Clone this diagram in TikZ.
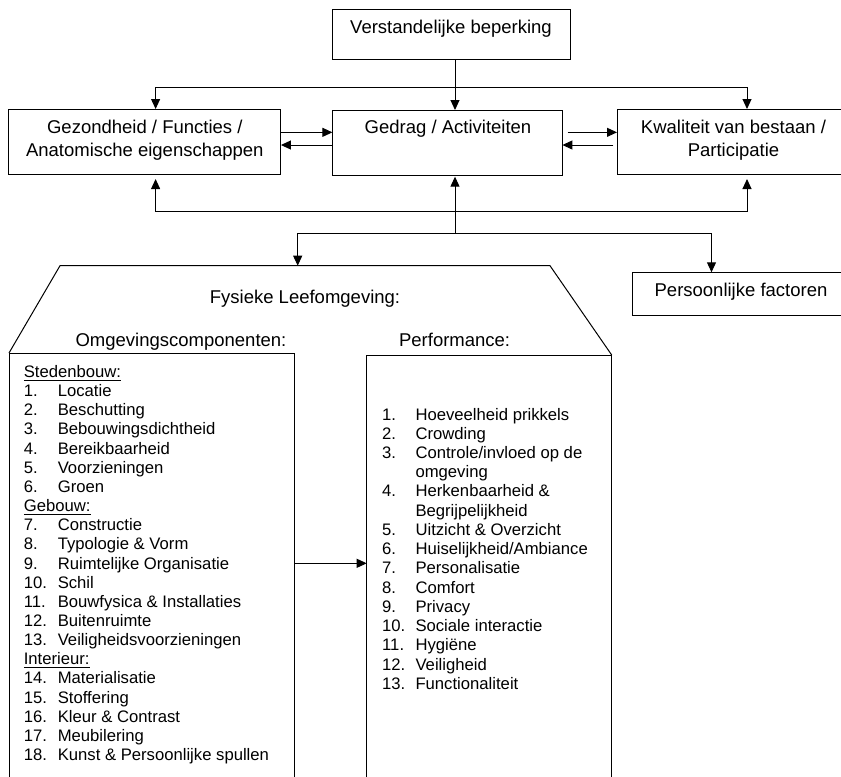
\documentclass[tikz,border=0pt]{standalone}
\usepackage{fontspec}
\setmainfont{Liberation Sans}
\usetikzlibrary{arrows.meta}
\newcommand{\headfont}{\fontsize{11.1}{13.8}\selectfont}
\newcommand{\listfont}{\fontsize{10}{11.5}\selectfont}
\tikzset{
  box/.style={draw, inner sep=0pt, outer sep=0pt, anchor=north west},
  arr/.style={-{Triangle[length=6pt,width=5.4pt]}},
  htxt/.style={font=\headfont, anchor=base, inner sep=0pt},
  ltxt/.style={font=\listfont, anchor=base west, inner sep=0pt}
}
\begin{document}
\begin{tikzpicture}[x=0.6pt,y=-0.6pt,line width=0.6pt]
  \useasboundingbox (0,0) rectangle (841,776);
  \clip (0,0) rectangle (841,776);
  % boxes
  \node[box, minimum width=142.8pt, minimum height=30.4pt] (vb) at (332,9.3) {};
  \node[box, minimum width=163.4pt, minimum height=39pt] (gez) at (8.6,109) {};
  \node[box, minimum width=138pt, minimum height=39pt] (ged) at (332.4,110) {};
  \node[box, minimum width=139.8pt, minimum height=39pt] (kwal) at (617,109) {};
  \node[box, minimum width=130.6pt, minimum height=26pt] (pers) at (632.3,272.3) {};
  \node[box, minimum width=171pt, minimum height=270pt] (omg) at (9,353) {};
  \node[box, minimum width=147pt, minimum height=270pt] (perf) at (366.7,355) {};
  % texts
  \node[htxt] (vbt) at (451,33.7) {Verstandelijke beperking};
  \node[htxt] (gezt1) at (144.8,133.7) {Gezondheid / Functies /};
  \node[htxt] (gezt2) at (144.8,156.7) {Anatomische eigenschappen};
  \node[htxt] (gedt) at (448,133.5) {Gedrag / Activiteiten};
  \node[htxt] (kwalt1) at (733.5,133.7) {Kwaliteit van bestaan /};
  \node[htxt] (kwalt2) at (733.5,156.7) {Participatie};
  \node[htxt] (perst) at (741,296.7) {Persoonlijke factoren};
  \node[htxt] (fys) at (305,303) {Fysieke Leefomgeving:};
  \node[htxt] (omgt) at (181,346.5) {Omgevingscomponenten:};
  \node[htxt] (perft) at (454.6,346.5) {Performance:};
  % trapezoid
  \coordinate (ta) at (60,265.7);
  \coordinate (tb) at (550,265.7);
  \draw (omg.north west) -- (ta) -- (tb) -- (perf.north east);
  % junctions
  \coordinate (mid) at (455,87.3);
  \coordinate (tl) at (155.6,87.3);
  \coordinate (tr) at (747,87.3);
  \coordinate (bl) at (155.6,211.7);
  \coordinate (br) at (747,211.7);
  \coordinate (hub) at (455,233.3);
  \coordinate (fl) at (297.7,233.3);
  \coordinate (fr) at (711.5,233.3);
  \coordinate (om) at (330,563.3);
  \coordinate (ga) at ([yshift=5.5pt]gez.east);
  \coordinate (gb) at ([yshift=-2.1pt]gez.east);
  \coordinate (ka) at ([xshift=3.2pt,yshift=6.1pt]ged.east);
  \coordinate (kb) at ([xshift=-2.2pt,yshift=-2.1pt]kwal.west);
  % connectors
  \draw[arr] (vb.south -| mid) -- (ged.north -| mid);
  \draw (tl) -- (tr);
  \draw[arr] (tl) -- (tl |- gez.north);
  \draw[arr] (tr) -- (tr |- kwal.north);
  \draw[arr] (ga) -- (ga -| ged.west);
  \draw[arr] (gb -| ged.west) -- (gb);
  \draw[arr] (ka) -- (ka -| kwal.west);
  \draw[arr] (kb) -- (kb -| ged.east);
  \draw (bl) -- (br);
  \draw[arr, shorten >=3pt] (bl) -- (bl |- gez.south);
  \draw[arr, shorten >=3pt] (br) -- (br |- kwal.south);
  \draw[arr, shorten >=1pt] (hub) -- (hub |- ged.south);
  \draw (fl) -- (fr);
  \draw[arr] (fl) -- (fl |- ta);
  \draw[arr] (fr) -- (fr |- pers.north);
  \draw[arr] (omg.east |- om) -- (perf.west |- om);
  % lists
  \foreach \nr/\tx [count=\k] in {{\underline{Stedenbouw:}}/{}, 1./Locatie, 2./Beschutting,
      3./Bebouwingsdichtheid, 4./Bereikbaarheid, 5./Voorzieningen, 6./Groen,
      {\underline{Gebouw:}}/{}, 7./Constructie, 8./{Typologie \& Vorm},
      9./{Ruimtelijke Organisatie}, 10./Schil, 11./{Bouwfysica \& Installaties},
      12./Buitenruimte, 13./Veiligheidsvoorzieningen, {\underline{Interieur:}}/{},
      14./Materialisatie, 15./Stoffering, 16./{Kleur \& Contrast}, 17./Meubilering,
      18./{Kunst \& Persoonlijke spullen}}
    \node[ltxt] (ol\k) at (23.3,{377.5+(\k-1)*19.15}) {\makebox[20.4pt][l]{\nr}\tx};
  \foreach \nr/\tx [count=\k] in {1./{Hoeveelheid prikkels}, 2./Crowding,
      3./{Controle/invloed op de}, {}/omgeving, 4./{Herkenbaarheid \&}, {}/Begrijpelijkheid,
      5./{Uitzicht \& Overzicht}, 6./{Huiselijkheid/Ambiance}, 7./Personalisatie,
      8./Comfort, 9./Privacy, 10./{Sociale interactie}, 11./Hygiëne, 12./Veiligheid,
      13./Functionaliteit}
    \node[ltxt] (pl\k) at (381.7,{420+(\k-1)*19.24}) {\makebox[20pt][l]{\nr}\tx};
\end{tikzpicture}
\end{document}
